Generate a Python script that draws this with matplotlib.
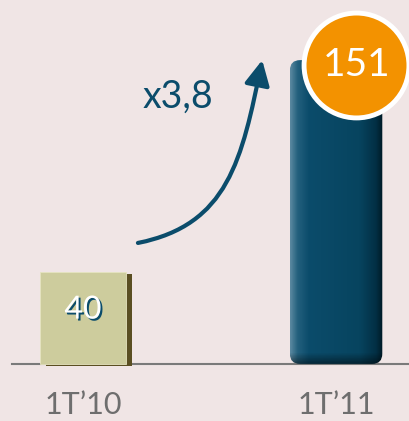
import numpy as np
import matplotlib

matplotlib.use("Agg")
import matplotlib.pyplot as plt
import matplotlib.patheffects as pe
from matplotlib.patches import FancyBboxPatch, FancyArrowPatch
from matplotlib.path import Path
from matplotlib.colors import LinearSegmentedColormap

############### DATA ###############
categories = ["1T\u201910", "1T\u201911"]
values = [40, 151]

############### STYLE ###############
BG = "#f0e5e5"
OLIVE = "#cdcc9d"
OLIVE_DARK = "#5a4e22"
TEAL = "#0b4c6b"
ORANGE = "#f39200"
GREY = "#6e6e6e"
BASE = -8.2  # visual floor of the bars
plt.rcParams["font.family"] = ["Lato", "DejaVu Sans"]

fig = plt.figure(figsize=(4.10, 4.21), dpi=100, facecolor=BG)
ax = fig.add_axes([0, 0, 1, 1])
ax.set_facecolor(BG)
ax.set_xlim(-0.328, 1.292)
ax.set_ylim(-38.1, 182.5)
ax.axis("off")

x = np.arange(len(categories))
heights = [v - BASE for v in values]

# baseline
ax.axhline(BASE, xmin=12 / 410, xmax=1, color="#7a7a7a", lw=1.5, zorder=1)

# first bar: flat olive box with a dark bevel shadow
bars = ax.bar(x[0], heights[0], bottom=BASE, width=0.34, color=OLIVE,
              edgecolor="#e6e4c0", linewidth=0.6, zorder=3)
bars[0].set_path_effects([
    pe.SimplePatchShadow(offset=(4.3, -1.2), shadow_rgbFace=OLIVE_DARK, alpha=1),
    pe.Normal(),
])

# second bar: rounded teal column with horizontal gradient
w2 = 0.365
ypx = ax.transData.transform([(0, 0), (0, 1)])
xpx = ax.transData.transform([(0, 0), (1, 0)])
aspect = (xpx[1, 0] - xpx[0, 0]) / (ypx[1, 1] - ypx[0, 1])
box = FancyBboxPatch((x[1] - w2 / 2, BASE), w2, heights[1],
                     boxstyle="round,pad=0,rounding_size=0.04",
                     mutation_aspect=aspect, fc="none", ec="none", zorder=3)
ax.add_patch(box)
cmap = LinearSegmentedColormap.from_list(
    "teal", [(0, "#5a88a0"), (0.08, "#23607d"), (0.2, TEAL),
             (0.75, "#07445f"), (0.93, "#022f44"), (1, "#001a26")])
grad = np.tile(np.linspace(0, 1, 200), (200, 1))
shade = np.ones_like(grad)
shade[-8:, :] = np.linspace(1, 0.55, 8)[:, None]
rgb = cmap(grad)[..., :3] * shade[..., None]
img = ax.imshow(rgb, extent=(x[1] - w2 / 2, x[1] + w2 / 2, BASE, values[1]),
                origin="upper", aspect="auto", zorder=3)
img.set_clip_path(box)

# value labels
ax.annotate(str(values[0]), (x[0], (BASE + values[0]) / 2), xytext=(0, 6),
            textcoords="offset points", ha="center", va="center",
            fontsize=23, color="white", zorder=5,
            path_effects=[pe.withSimplePatchShadow(offset=(1.4, -1.4),
                                                   shadow_rgbFace=TEAL, alpha=1)])
ax.scatter([x[1] + 0.08], [values[1] - 2.5], s=5700, color=ORANGE,
           edgecolor="white", linewidth=3.5, zorder=6)
ax.text(x[1] + 0.08, values[1] - 2.5, str(values[1]), ha="center", va="center",
        fontsize=28, color="white", zorder=7)

# growth arrow (cubic curve, flat start and steep finish)
arrow_path = Path([(0.217, 55.2), (0.573, 64.6), (0.628, 98.7), (0.708, 151)],
                  [Path.MOVETO, Path.CURVE4, Path.CURVE4, Path.CURVE4])
ax.add_patch(FancyArrowPatch(path=arrow_path,
                             arrowstyle="-|>,head_length=0.75,head_width=0.38",
                             lw=3, color=TEAL, mutation_scale=20, zorder=4))
ratio = values[1] / values[0]
ax.text(0.375, 132, f"x{ratio:.1f}".replace(".", ","), ha="center", va="center",
        fontsize=27, color=TEAL, zorder=4)

# category labels
for xi, lab in zip(x, categories):
    ax.annotate(lab, (xi, BASE), xytext=(0, -36), textcoords="offset points",
                ha="center", va="baseline", fontsize=22, color=GREY)

fig.savefig("out.png", dpi=100, facecolor=BG)
